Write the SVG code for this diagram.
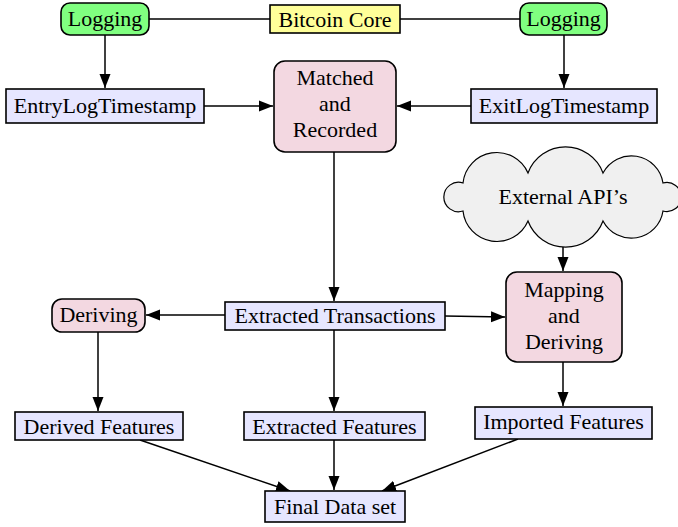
<svg xmlns="http://www.w3.org/2000/svg" width="678" height="527" viewBox="0 0 678 527">
<style>
text{font-family:"Liberation Serif","DejaVu Serif",serif;font-size:22px;fill:#000;text-anchor:middle}
.box{stroke:#000;stroke-width:1.6}
.blue{fill:#E6E6FF}
.green{fill:#80FF80}
.yellow{fill:#FFFF99}
.pink{fill:#F3D8E1}
.cloud{fill:#F0F0F0;stroke:#000;stroke-width:1.2}
.edge{stroke:#000;stroke-width:1.5;fill:none}
.arr{marker-end:url(#ah)}
</style>
<defs>
<marker id="ah" markerUnits="userSpaceOnUse" markerWidth="15" markerHeight="12" refX="14" refY="6" orient="auto">
<path d="M0,0.5 L14,6 L0,11.5 Z" fill="#000"/>
</marker>
</defs>
<rect width="678" height="527" fill="#fff"/>
<g id="connectors">
<line class="edge" x1="149" y1="19" x2="270" y2="19"/>
<line class="edge" x1="400" y1="19" x2="520" y2="19"/>
<line class="edge arr" x1="105" y1="35" x2="105" y2="88"/>
<line class="edge arr" x1="564" y1="35" x2="564" y2="88"/>
<line class="edge arr" x1="204" y1="106" x2="273" y2="106"/>
<line class="edge arr" x1="471" y1="106" x2="397" y2="106"/>
<line class="edge arr" x1="334" y1="152" x2="334" y2="301"/>
<line class="edge arr" x1="563" y1="247" x2="563" y2="271"/>
<line class="edge arr" x1="225" y1="315" x2="146" y2="315"/>
<line class="edge arr" x1="445" y1="316" x2="505" y2="317"/>
<line class="edge arr" x1="98" y1="332" x2="98" y2="411"/>
<line class="edge arr" x1="334" y1="330" x2="334" y2="411"/>
<line class="edge arr" x1="563" y1="362" x2="563" y2="406"/>
<line class="edge arr" x1="140" y1="440" x2="290" y2="491"/>
<line class="edge arr" x1="334" y1="440" x2="334" y2="490"/>
<line class="edge arr" x1="518" y1="439" x2="382" y2="491"/>
</g>
<g id="logging-left">
<rect class="box green" x="61" y="3" width="88" height="32" rx="9"/>
<text x="105" y="26">Logging</text>
</g>
<g id="bitcoin-core">
<rect class="box yellow" x="270" y="5" width="130" height="28"/>
<text x="335" y="27">Bitcoin Core</text>
</g>
<g id="logging-right">
<rect class="box green" x="520" y="3" width="87" height="32" rx="9"/>
<text x="563.5" y="26">Logging</text>
</g>
<g id="entry-log">
<rect class="box blue" x="6" y="89" width="198" height="34"/>
<text x="105" y="113">EntryLogTimestamp</text>
</g>
<g id="matched">
<rect class="box pink" x="274" y="61" width="122" height="91" rx="11"/>
<text x="335" y="85">Matched</text>
<text x="335" y="111">and</text>
<text x="335" y="137">Recorded</text>
</g>
<g id="exit-log">
<rect class="box blue" x="471" y="89" width="186" height="34"/>
<text x="564" y="113">ExitLogTimestamp</text>
</g>
<g id="external-api">
<path class="cloud" d="M463,183 A34,34 0 0 1 528,173 A40,40 0 0 1 603,173 A32,32 0 0 1 663,183 A14.5,14.5 0 1 1 663,211 A32,32 0 0 1 603,221 A40,40 0 0 1 528,221 A34,34 0 0 1 463,211 A14.7,14.7 0 1 1 463,183 Z"/>
<text x="563" y="204">External API’s</text>
</g>
<g id="mapping">
<rect class="box pink" x="506" y="272" width="116" height="90" rx="11"/>
<text x="564" y="297">Mapping</text>
<text x="564" y="323">and</text>
<text x="564" y="349">Deriving</text>
</g>
<g id="deriving">
<rect class="box pink" x="52" y="299" width="93" height="33" rx="10"/>
<text x="98.5" y="322">Deriving</text>
</g>
<g id="extracted-transactions">
<rect class="box blue" x="225" y="302" width="220" height="28"/>
<text x="335" y="323">Extracted Transactions</text>
</g>
<g id="derived-features">
<rect class="box blue" x="15" y="412" width="168" height="28"/>
<text x="99" y="434">Derived Features</text>
</g>
<g id="extracted-features">
<rect class="box blue" x="244" y="412" width="181" height="28"/>
<text x="334.5" y="434">Extracted Features</text>
</g>
<g id="imported-features">
<rect class="box blue" x="475" y="407" width="177" height="32"/>
<text x="563.5" y="429">Imported Features</text>
</g>
<g id="final-data">
<rect class="box blue" x="265" y="491" width="140" height="31"/>
<text x="335" y="514">Final Data set</text>
</g>
</svg>
